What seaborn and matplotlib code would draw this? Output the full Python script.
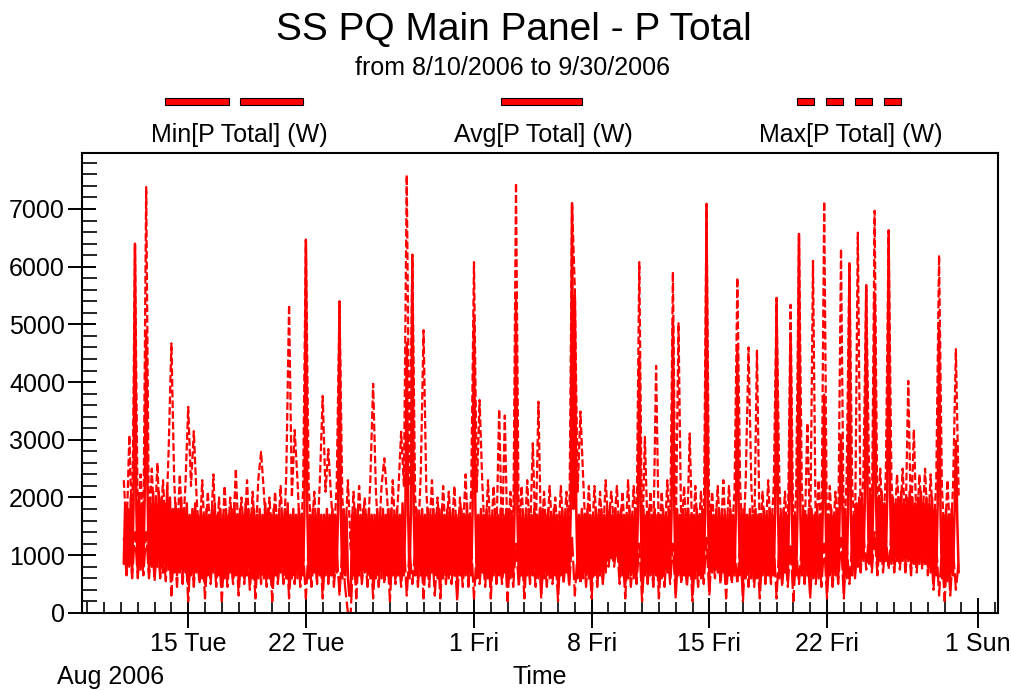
import numpy as np
import pandas as pd
import matplotlib
matplotlib.use("Agg")
import matplotlib.pyplot as plt
import matplotlib.dates as mdates
from matplotlib.ticker import MultipleLocator, FuncFormatter
from matplotlib.patches import Rectangle
import seaborn as sns

# ---------------- data (W) ----------------
start_time = "2006-08-11 04:00"
avg_step = "2h"   # averages, one row per day (00h..22h)
ext_step = "4h"   # extremes, one row per day (00h..20h)

max_p = [
    2300, 1400, 3080, 1300, 6400,
    1500, 2400, 1400, 7380, 1300, 2500,
    1400, 2600, 1300, 2300, 1400, 2800,
    4670, 2300, 1200, 2400, 1300, 2200,
    3570, 2200, 3150, 2000, 1200, 2300,
    1200, 2100, 1300, 2400, 1100, 2000,
    1100, 2200, 1200, 2000, 1300, 2500,
    1200, 2000, 1300, 2300, 1200, 2100,
    1100, 2300, 2790, 2100, 1200, 2000,
    1200, 2100, 1300, 2200, 1100, 2400,
    5340, 2000, 3170, 2300, 1200, 2100,
    6470, 2200, 1300, 2100, 1200, 2300,
    3760, 2100, 2840, 2000, 1300, 2200,
    5400, 2000, 1200, 2300, 1100, 2100,
    1200, 2200, 1300, 2000, 1200, 2300,
    3970, 2100, 1200, 2200, 2680, 2000,
    1100, 2300, 1300, 2100, 3140, 2200,
    7590, 2200, 6210, 2000, 1200, 2400,
    4900, 2100, 1300, 2300, 1200, 2000,
    1200, 2200, 1200, 2100, 1300, 2200,
    1100, 2000, 1300, 2400, 1200, 2100,
    6080, 2100, 3690, 2200, 1200, 2300,
    1200, 2200, 1300, 3530, 1200, 3420,
    1100, 2100, 1200, 7450, 1300, 2200,
    1200, 2300, 1300, 2940, 1200, 3660,
    1100, 2100, 1200, 2200, 1300, 2000,
    1200, 2200, 1300, 2100, 1200, 7110,
    5600, 2100, 3490, 2300, 1200, 2200,
    1200, 2200, 1300, 2100, 1200, 2300,
    1500, 2100, 1500, 2200, 1300, 2100,
    1200, 2300, 1200, 2200, 1300, 6080,
    1100, 3050, 1300, 2100, 1200, 4280,
    1200, 2100, 1200, 2300, 1200, 5910,
    1200, 5020, 1300, 2200, 1200, 3110,
    1100, 2200, 1200, 2100, 1300, 7090,
    1300, 2100, 1300, 2200, 1200, 2300,
    1200, 2200, 1300, 2100, 5810, 2200,
    1100, 2300, 4600, 2200, 1200, 4560,
    1200, 2100, 1200, 2300, 1300, 2200,
    5460, 2200, 1300, 2100, 1200, 5340,
    1200, 2100, 6570, 2200, 1300, 3290,
    1200, 6100, 1300, 2300, 1200, 7130,
    1100, 2200, 1200, 2100, 1300, 6310,
    1200, 2300, 6070, 2200, 1300, 6590,
    1500, 2400, 5680, 2500, 1400, 6970,
    1500, 2500, 1400, 2400, 6630, 2300,
    1400, 2400, 1500, 2500, 1400, 4020,
    1500, 3180, 1400, 2400, 1500, 2500,
    1400, 2400, 1300, 2300, 6200, 2200,
    1200, 2300, 1200, 2200, 4570, 2000,
]

avg_p = [
    850, 1900, 700, 1800, 800, 2000, 750, 1900, 6390, 1800,
    700, 2000, 750, 1900, 800, 2100, 4850, 2000, 700, 1900, 800, 2100,
    700, 1900, 800, 2100, 750, 2000, 700, 1900, 800, 2200, 750, 2000,
    550, 1800, 700, 1900, 650, 1800, 700, 2000, 650, 1800, 700, 1900,
    500, 1700, 650, 1800, 600, 1900, 700, 1700, 650, 1800, 600, 1700,
    500, 1800, 650, 1700, 600, 1800, 700, 1900, 600, 1700, 650, 1800,
    450, 1700, 600, 1800, 650, 1700, 700, 1800, 600, 1900, 650, 1700,
    500, 1800, 650, 1700, 600, 1900, 650, 1800, 700, 1700, 600, 1800,
    500, 1700, 600, 1800, 650, 1700, 600, 1900, 650, 1800, 600, 1700,
    450, 1800, 650, 1700, 600, 1800, 700, 1700, 650, 1800, 600, 1900,
    500, 1700, 600, 1800, 650, 1700, 600, 1800, 700, 1700, 650, 1800,
    6460, 1800, 600, 1700, 650, 1800, 700, 1700, 600, 1800, 650, 1700,
    500, 1700, 650, 1800, 600, 1700, 650, 1800, 600, 1700, 700, 1800,
    5390, 1700, 600, 1800, 650, 1700, 600, 300, 300, 1700, 650, 1800,
    500, 1800, 650, 1700, 600, 1800, 700, 1700, 650, 1800, 600, 1700,
    450, 1700, 600, 1800, 650, 1700, 600, 1800, 700, 1700, 650, 1800,
    500, 1800, 650, 1700, 600, 1800, 650, 1700, 600, 1900, 650, 1700,
    4680, 1700, 600, 1800, 6200, 1700, 650, 1800, 600, 1700, 650, 1800,
    500, 1700, 650, 1800, 600, 1700, 700, 1800, 650, 1700, 600, 1800,
    450, 1800, 600, 1700, 650, 1800, 600, 1700, 700, 1800, 650, 1700,
    500, 1700, 650, 1800, 600, 1700, 650, 1900, 600, 1700, 650, 1800,
    5130, 1800, 600, 1700, 650, 1800, 700, 1700, 650, 1800, 600, 1700,
    500, 1700, 650, 1800, 600, 1700, 650, 1800, 600, 1700, 700, 1800,
    450, 1800, 600, 1700, 650, 1800, 5420, 1700, 600, 1800, 650, 1700,
    500, 1700, 650, 1800, 600, 1700, 650, 1800, 700, 1700, 600, 1800,
    500, 1800, 600, 1700, 650, 1800, 600, 1700, 650, 1800, 650, 1700,
    450, 1700, 650, 1800, 600, 1700, 700, 1800, 650, 1700, 7100, 1800,
    5500, 1800, 600, 1700, 650, 1800, 600, 1700, 650, 1800, 600, 1700,
    500, 1700, 650, 1800, 600, 1700, 650, 1800, 600, 1700, 700, 1800,
    900, 1800, 950, 1700, 900, 1800, 1000, 1700, 700, 1800, 650, 1700,
    500, 1700, 600, 1800, 650, 1700, 600, 1800, 650, 1700, 4440, 1800,
    450, 1800, 650, 1700, 600, 1800, 650, 1700, 600, 1800, 650, 1700,
    500, 1700, 600, 1800, 650, 1700, 700, 1800, 650, 1700, 5020, 1800,
    500, 1800, 650, 1700, 600, 1800, 650, 1700, 600, 1800, 650, 1700,
    450, 1700, 600, 1800, 650, 1700, 600, 1800, 700, 1700, 7080, 1800,
    600, 1800, 700, 1700, 750, 1800, 700, 1700, 650, 1800, 700, 1700,
    500, 1700, 650, 1800, 600, 1700, 650, 1800, 4560, 1700, 650, 1800,
    450, 1800, 600, 1700, 650, 1800, 600, 1700, 650, 1800, 600, 1700,
    500, 1700, 650, 1800, 600, 1700, 650, 1800, 600, 1700, 650, 1800,
    5450, 1800, 600, 1700, 650, 1800, 700, 1700, 650, 1800, 4850, 1700,
    500, 1700, 650, 1800, 6560, 1700, 650, 1800, 600, 1700, 650, 1800,
    450, 1800, 600, 1700, 650, 1800, 600, 1700, 650, 1800, 3780, 1700,
    500, 1700, 650, 1800, 600, 1700, 650, 1800, 600, 1700, 3085, 1800,
    500, 1800, 600, 1700, 6060, 1800, 650, 1700, 700, 1900, 800, 2000,
    850, 2000, 900, 1900, 5670, 2000, 850, 2100, 900, 1900, 5540, 2000,
    800, 2000, 900, 2100, 850, 1900, 900, 2000, 6625, 2100, 850, 2000,
    850, 1900, 900, 2000, 850, 2100, 900, 1900, 850, 2000, 900, 2100,
    800, 2000, 850, 1900, 900, 2000, 850, 2100, 900, 1900, 850, 2000,
    800, 1900, 700, 2000, 600, 1800, 650, 1900, 4930, 1800, 600, 1700,
    450, 1800, 550, 1700, 600, 1800, 650, 1700, 2980, 1600, 700,
]

min_p = [
    1300, 650, 1200, 600, 1400,
    600, 1300, 650, 1400, 600, 1300,
    550, 1300, 600, 1200, 550, 1400,
    300, 1200, 450, 1300, 500, 1200,
    200, 1100, 450, 1200, 500, 1100,
    250, 1100, 500, 1200, 450, 1100,
    200, 1200, 450, 1100, 500, 1200,
    300, 1100, 500, 1200, 400, 1100,
    250, 1200, 500, 1100, 450, 1100,
    200, 1100, 500, 1200, 500, 1200,
    250, 1100, 500, 1200, 450, 1100,
    250, 1200, 450, 1100, 500, 1200,
    250, 1100, 500, 1100, 450, 1100,
    300, 1100, 450, 0, 0, 1100,
    250, 1200, 500, 1100, 450, 1200,
    250, 1100, 450, 1200, 500, 1100,
    200, 1200, 500, 1100, 450, 1200,
    300, 1100, 500, 1100, 450, 1200,
    250, 1100, 450, 1200, 300, 1100,
    250, 1200, 500, 1100, 500, 1100,
    200, 1100, 450, 1200, 450, 1200,
    250, 1100, 500, 1100, 450, 1200,
    250, 1200, 500, 1200, 500, 1100,
    200, 1100, 450, 1200, 450, 1100,
    250, 1200, 500, 1100, 450, 1200,
    250, 1100, 450, 1200, 500, 1100,
    200, 1200, 500, 1100, 450, 1300,
    300, 1100, 500, 1200, 450, 1100,
    250, 1200, 450, 1100, 500, 1200,
    800, 1200, 800, 1200, 500, 1100,
    250, 1200, 450, 1100, 500, 1200,
    200, 1100, 500, 1100, 450, 1200,
    250, 1100, 450, 1200, 500, 1200,
    250, 1200, 500, 1100, 450, 1100,
    200, 1100, 450, 1100, 500, 1300,
    300, 1200, 600, 1200, 500, 1100,
    250, 1100, 500, 1100, 500, 1200,
    200, 1200, 450, 1200, 450, 1100,
    250, 1100, 500, 1200, 500, 1200,
    250, 1200, 450, 1100, 450, 1200,
    200, 1100, 500, 1200, 500, 1100,
    250, 1200, 500, 1200, 450, 1200,
    250, 1100, 450, 1100, 500, 1300,
    250, 1200, 500, 1200, 600, 1300,
    700, 1400, 750, 1400, 700, 1400,
    650, 1400, 700, 1300, 750, 1400,
    700, 1300, 750, 1400, 700, 1300,
    650, 1400, 700, 1300, 750, 1400,
    650, 1300, 400, 1200, 300, 1100,
    200, 1200, 300, 1100, 400, 900,
]

series_labels = ["Min[P Total] (W)", "Avg[P Total] (W)", "Max[P Total] (W)"]
title = "SS PQ Main Panel - P Total"
subtitle = "from 8/10/2006 to 9/30/2006"
x_title = "Time"
x_period = "Aug 2006"
y_ticks = [0, 1000, 2000, 3000, 4000, 5000, 6000, 7000]

# ---------------- style ----------------
sns.set_style("ticks")
plt.rcParams["font.family"] = ["Liberation Sans", "DejaVu Sans"]
plt.rcParams["lines.scale_dashes"] = False

W, H = 1012, 690
fig = plt.figure(figsize=(W / 100, H / 100), dpi=100)
ax = fig.add_axes([82 / W, (H - 612.9) / H, (998 - 82) / W, (612.9 - 153.3) / H])

red = "#ff0000"
ls_max = (0, (5.5, 2.2))
ls_min = (0, (14, 3))

def frame(vals, freq):
    t = pd.date_range(start_time, periods=len(vals), freq=freq)
    return pd.DataFrame({"time": t, "P": vals})

sns.lineplot(data=frame(max_p, ext_step), x="time", y="P", ax=ax, color=red,
             linewidth=1.6, linestyle=ls_max, estimator=None, sort=False)
sns.lineplot(data=frame(min_p, ext_step), x="time", y="P", ax=ax, color=red,
             linewidth=1.6, linestyle=ls_min, estimator=None, sort=False)
sns.lineplot(data=frame(avg_p, avg_step), x="time", y="P", ax=ax, color=red,
             linewidth=1.8, linestyle="-", estimator=None, sort=False)

# ---------------- axes ----------------
ax.set_xlim(mdates.date2num(pd.Timestamp("2006-08-08 16:22")),
            mdates.date2num(pd.Timestamp("2006-10-02 04:08")))
ax.set_ylim(0, 7965)
ax.set_yticks(y_ticks)
ax.yaxis.set_minor_locator(MultipleLocator(200))
ax.xaxis.set_major_locator(mdates.DayLocator(bymonthday=[1, 8, 15, 22]))
ax.xaxis.set_minor_locator(mdates.DayLocator())

def fmt_date(x, pos=None):
    d = mdates.num2date(x)
    return f"{d.day} {d.strftime('%a')}"

ax.xaxis.set_major_formatter(FuncFormatter(fmt_date))

for s in ax.spines.values():
    s.set_linewidth(1.5)
    s.set_color("black")
    s.set_visible(True)

ax.tick_params(axis="y", which="major", direction="inout", length=20.5, width=1.4,
               labelsize=18, pad=2, colors="black")
ax.tick_params(axis="y", which="minor", direction="in", length=10.5, width=1.4)
ax.tick_params(axis="x", which="major", direction="inout", length=22, width=1.4,
               labelsize=18, pad=3, colors="black")
ax.tick_params(axis="x", which="minor", direction="in", length=8, width=1.4)

ax.set_ylabel("")
ax.set_xlabel(x_title, fontsize=18, labelpad=6, color="black")
ax.grid(False)
ax.set_facecolor("white")

# ---------------- titles ----------------
fig.text(514 / W, (H - 40) / H, title, ha="center", va="baseline",
         fontsize=28, color="black")
fig.text(513 / W, (H - 75) / H, subtitle, ha="center", va="baseline",
         fontsize=18, color="black")
fig.text(57 / W, (H - 684) / H, x_period, ha="left", va="baseline", fontsize=18,
         color="black")

# ---------------- legend (samples above labels) ----------------
legend_samples = [
    [(165.4, 229.2), (240.0, 303.3)],
    [(500.6, 582.3)],
    [(797.5, 814.0), (826.5, 842.8), (854.8, 872.2), (884.2, 901.1)],
]
label_centers = [239, 543, 850.7]
for segs, lab, cx in zip(legend_samples, series_labels, label_centers):
    for x0, x1 in segs:
        fig.patches.append(Rectangle((x0 / W, (H - 105) / H), (x1 - x0) / W, 7.3 / H,
                                     transform=fig.transFigure, facecolor=red,
                                     edgecolor="black", linewidth=0.8))
    fig.text(cx / W, (H - 141.7) / H, lab, ha="center", va="baseline", fontsize=18,
             color="black")

fig.savefig("out.png", dpi=100)
